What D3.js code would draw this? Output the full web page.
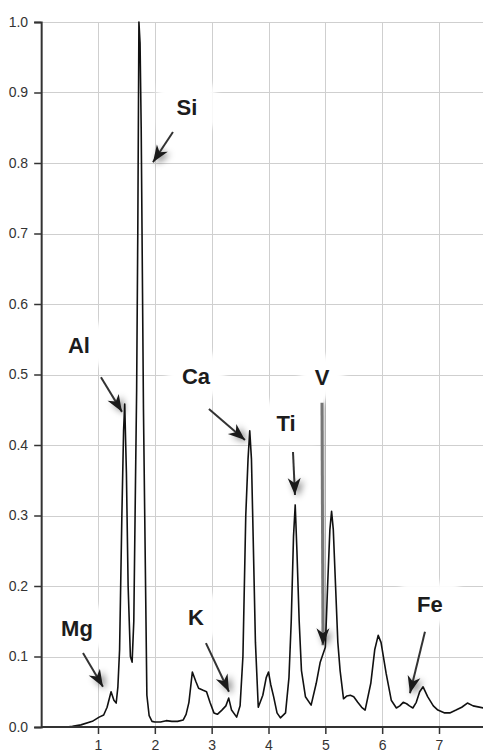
<!DOCTYPE html>
<html>
<head>
<meta charset="utf-8">
<script src="https://cdn.jsdelivr.net/npm/d3@7"></script>
<style>
  html, body { margin: 0; padding: 0; background: #fff; }
  svg { display: block; }
</style>
</head>
<body>
<svg id="chart" width="483" height="754"></svg>
<script>
// spectrum, energy in keV and normalised intensity
var energy = [0.45, 0.55, 0.7, 0.9, 1.02, 1.1, 1.16, 1.23, 1.28, 1.32, 1.35, 1.38, 1.42, 1.45, 1.47, 1.5, 1.53, 1.57, 1.6,
  1.63, 1.66, 1.68, 1.7, 1.72, 1.74, 1.76, 1.8, 1.84, 1.86, 1.9, 1.95, 2.0, 2.1, 2.2, 2.3, 2.4, 2.5, 2.55, 2.6, 2.66,
  2.72, 2.77, 2.85, 2.91, 2.97, 3.04, 3.1, 3.18, 3.25, 3.3, 3.35, 3.44, 3.5, 3.55, 3.6, 3.64, 3.67, 3.7, 3.73, 3.77,
  3.82, 3.9, 3.96, 4.0, 4.04, 4.09, 4.15, 4.21, 4.3, 4.36, 4.4, 4.44, 4.47, 4.5, 4.54, 4.58, 4.65, 4.75, 4.84, 4.91,
  5.0, 5.04, 5.08, 5.11, 5.14, 5.18, 5.22, 5.26, 5.32, 5.38, 5.44, 5.5, 5.57, 5.64, 5.7, 5.8, 5.87, 5.93, 5.98, 6.07,
  6.16, 6.25, 6.31, 6.37, 6.43, 6.48, 6.54, 6.6, 6.66, 6.72, 6.8, 6.9, 6.98, 7.1, 7.19, 7.3, 7.4, 7.5, 7.6, 7.78];
var intensity = [0, 0.001, 0.003, 0.008, 0.014, 0.017, 0.028, 0.05, 0.038, 0.034, 0.057, 0.11, 0.3, 0.42, 0.458, 0.36, 0.2, 0.1, 0.092,
  0.15, 0.35, 0.478, 0.7, 1.0, 0.97, 0.85, 0.45, 0.18, 0.045, 0.016, 0.008, 0.007, 0.007, 0.009, 0.008, 0.008, 0.01, 0.018, 0.035, 0.078,
  0.065, 0.055, 0.052, 0.05, 0.035, 0.02, 0.018, 0.024, 0.03, 0.041, 0.024, 0.014, 0.03, 0.1, 0.3, 0.38, 0.42, 0.38, 0.27, 0.12,
  0.028, 0.045, 0.07, 0.078, 0.06, 0.043, 0.02, 0.013, 0.02, 0.07, 0.15, 0.27, 0.315, 0.25, 0.15, 0.08, 0.043, 0.031, 0.062, 0.092,
  0.113, 0.2, 0.28, 0.306, 0.28, 0.2, 0.12, 0.08, 0.04, 0.044, 0.045, 0.043, 0.035, 0.028, 0.024, 0.062, 0.11, 0.13, 0.12, 0.076,
  0.038, 0.027, 0.03, 0.035, 0.033, 0.03, 0.027, 0.035, 0.05, 0.057, 0.043, 0.03, 0.024, 0.02, 0.02, 0.024, 0.028, 0.034, 0.03, 0.027];

var xTicks = [1, 2, 3, 4, 5, 6, 7];
var yTicks = [0, 0.1, 0.2, 0.3, 0.4, 0.5, 0.6, 0.7, 0.8, 0.9, 1.0];

// element labels and their arrows (data units)
var elements = ["Si", "Al", "Mg", "K", "Ca", "Ti", "V", "Fe"];
var labelX = [2.565, 0.665, 0.63, 2.724, 2.724, 4.308, 4.941, 6.841];
var labelY = [0.868, 0.53, 0.129, 0.145, 0.487, 0.42, 0.485, 0.163];
var arrowFromX = [2.319, 1.052, 0.736, 2.899, 2.952, 4.431, 4.941, 6.753];
var arrowFromY = [0.844, 0.496, 0.105, 0.119, 0.451, 0.39, 0.46, 0.135];
var arrowToX = [1.967, 1.422, 1.087, 3.304, 3.586, 4.466, 4.959, 6.489];
var arrowToY = [0.801, 0.447, 0.057, 0.05, 0.407, 0.329, 0.116, 0.048];

var svg = d3.select("#chart");
var W = 483, H = 754;

var x = d3.scaleLinear().domain([1, 7]).range([98, 439]);
var y = d3.scaleLinear().domain([0, 1]).range([727, 22]);
var x0 = x(0);

var defs = svg.append("defs");
defs.append("filter").attr("id", "soft").attr("x", "-50%").attr("y", "-50%").attr("width", "200%").attr("height", "200%")
  .append("feGaussianBlur").attr("stdDeviation", 3);
defs.append("filter").attr("id", "shadow").attr("x", "-100%").attr("y", "-100%").attr("width", "300%").attr("height", "300%")
  .append("feGaussianBlur").attr("stdDeviation", 3.5);

// grid
var grid = svg.append("g").attr("stroke", "#cfcfcf").attr("stroke-width", 1);
grid.selectAll("line.h").data(yTicks.slice(1)).enter().append("line")
  .attr("x1", x0).attr("x2", W)
  .attr("y1", function(d) { return Math.round(y(d)) + 0.5; })
  .attr("y2", function(d) { return Math.round(y(d)) + 0.5; });
grid.selectAll("line.v").data(xTicks).enter().append("line")
  .attr("y1", y(1)).attr("y2", y(0))
  .attr("x1", function(d) { return Math.round(x(d)) + 0.5; })
  .attr("x2", function(d) { return Math.round(x(d)) + 0.5; });

// white halos behind labels
var halo = svg.append("g").attr("fill", "#fff").attr("filter", "url(#soft)");
elements.forEach(function(name, i) {
  var w = name.length * 14 + 30;
  halo.append("rect")
    .attr("x", x(labelX[i]) - w / 2).attr("y", y(labelY[i]) - 30)
    .attr("width", w).attr("height", 42);
});

// spectrum
var line = d3.line()
  .x(function(d) { return x(d[0]); })
  .y(function(d) { return y(d[1]); });
svg.append("path")
  .datum(d3.zip(energy, intensity))
  .attr("d", line)
  .attr("fill", "none")
  .attr("stroke", "#111")
  .attr("stroke-width", 1.6)
  .attr("stroke-linejoin", "round");

// axes
var yAxis = d3.axisLeft(y).tickValues(yTicks).tickSize(7).tickFormat(d3.format(".1f"));
var xAxis = d3.axisBottom(x).tickValues(xTicks).tickSize(7).tickFormat(d3.format("d"));

var gy = svg.append("g").attr("transform", "translate(" + x0 + ",0)").call(yAxis);
var gx = svg.append("g").attr("transform", "translate(0," + y(0) + ")").call(xAxis);
gx.select(".domain").attr("d", "M" + x0 + ",0H" + W);
[gx, gy].forEach(function(g) {
  g.select(".domain").attr("stroke", "#333").attr("stroke-width", 2);
  g.selectAll(".tick line").attr("stroke", "#333").attr("stroke-width", 1.5);
  g.selectAll(".tick text")
    .attr("fill", "#333")
    .style("font-family", "'Liberation Sans', Arial, sans-serif")
    .style("font-size", "14px");
});
gy.selectAll(".tick text").attr("x", -13);
gx.selectAll(".tick text").attr("y", 13);

// arrows
var arrows = svg.append("g");
function head(i) {
  var tx = x(arrowToX[i]), ty = y(arrowToY[i]);
  var fx = x(arrowFromX[i]), fy = y(arrowFromY[i]);
  var dx = tx - fx, dy = ty - fy, len = Math.sqrt(dx * dx + dy * dy);
  var ux = dx / len, uy = dy / len;
  var bx = tx - ux * 17, by = ty - uy * 17;
  return "M" + tx + "," + ty +
    "L" + (bx - uy * 6.5) + "," + (by + ux * 6.5) +
    "L" + (tx - ux * 12) + "," + (ty - uy * 12) +
    "L" + (bx + uy * 6.5) + "," + (by - ux * 6.5) + "Z";
}
elements.forEach(function(name, i) {
  var isV = name === "V";
  var fx = x(arrowFromX[i]), fy = y(arrowFromY[i]);
  var tx = x(arrowToX[i]), ty = y(arrowToY[i]);
  // soft shadow round the head
  arrows.append("path").attr("d", head(i)).attr("fill", "#000").attr("opacity", 0.55)
    .attr("transform", "translate(3,2)").attr("filter", "url(#shadow)");
  if (isV) {
    arrows.append("line").attr("x1", fx + 2).attr("y1", fy).attr("x2", tx + 2).attr("y2", ty - 8)
      .attr("stroke", "#000").attr("stroke-width", 4).attr("opacity", 0.35).attr("filter", "url(#soft)");
  }
  arrows.append("line")
    .attr("x1", fx).attr("y1", fy).attr("x2", tx).attr("y2", ty)
    .attr("stroke", isV ? "#777" : "#333")
    .attr("stroke-width", isV ? 3 : 2);
  arrows.append("path").attr("d", head(i)).attr("fill", "#1a1a1a");
});

// labels
svg.append("g").selectAll("text").data(elements).enter().append("text")
  .attr("x", function(d, i) { return x(labelX[i]); })
  .attr("y", function(d, i) { return y(labelY[i]); })
  .attr("text-anchor", "middle")
  .attr("fill", "#1c1c1c")
  .style("font-family", "'Liberation Sans', Arial, sans-serif")
  .style("font-size", "22px")
  .style("font-weight", "bold")
  .text(function(d) { return d; });
</script>
</body>
</html>
